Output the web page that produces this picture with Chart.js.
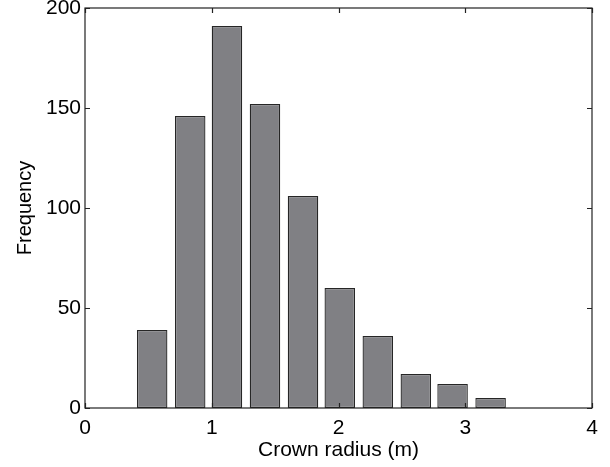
<!DOCTYPE html>
<html>
<head>
<meta charset="utf-8">
<script src="https://cdn.jsdelivr.net/npm/chart.js@4"></script>
<style>
  html, body { margin: 0; padding: 0; background: #fff; }
  #wrap { width: 610px; height: 467px; }
</style>
</head>
<body>
<div id="wrap"><canvas id="myChart" width="610" height="467"></canvas></div>
<script>
// bin centres (crown radius, m) and counts
const binCenters = [0.53, 0.83, 1.12, 1.42, 1.72, 2.01, 2.31, 2.61, 2.90, 3.20];
const counts = [39, 146, 191, 152, 106, 60, 36, 17, 12, 5];
const xTicks = [0, 1, 2, 3, 4];
const yTicks = [0, 50, 100, 150, 200];

const FONT = 'Liberation Sans, Arial, Helvetica, sans-serif';

// box frame plus MATLAB-style inward ticks on all four sides
const frameTicks = {
  id: 'frameTicks',
  afterDraw(chart) {
    const ctx = chart.ctx;
    const a = chart.chartArea;
    const xs = chart.scales.x, ys = chart.scales.y;
    const len = 5;
    ctx.save();
    ctx.strokeStyle = '#222';
    ctx.lineWidth = 1.2;
    ctx.strokeRect(a.left, a.top, a.right - a.left, a.bottom - a.top);
    ctx.beginPath();
    xTicks.forEach(function(v) {
      const px = Math.round(xs.getPixelForValue(v)) + 0.5;
      ctx.moveTo(px, a.bottom); ctx.lineTo(px, a.bottom - len);
      ctx.moveTo(px, a.top); ctx.lineTo(px, a.top + len);
    });
    yTicks.forEach(function(v) {
      const py = Math.round(ys.getPixelForValue(v)) + 0.5;
      ctx.moveTo(a.left, py); ctx.lineTo(a.left + len, py);
      ctx.moveTo(a.right, py); ctx.lineTo(a.right - len, py);
    });
    ctx.stroke();
    ctx.restore();
  }
};

const data = {
  datasets: [{
    label: 'Frequency',
    data: binCenters.map(function(c, i) { return { x: c, y: counts[i] }; }),
    backgroundColor: '#808084',
    borderColor: '#262626',
    borderWidth: 1.3,
    borderSkipped: false,
    barPercentage: 0.83,
    categoryPercentage: 1.0
  }]
};

const config = {
  type: 'bar',
  data,
  options: {
    responsive: false,
    animation: false,
    layout: { padding: { top: 8, right: 18, left: 0, bottom: 0 } },
    plugins: {
      legend: { display: false },
      tooltip: { enabled: false }
    },
    scales: {
      x: {
        type: 'linear',
        min: 0,
        max: 4,
        offset: false,
        afterBuildTicks: function(s) { s.ticks = xTicks.map(function(v) { return { value: v }; }); },
        grid: { display: false, drawTicks: false },
        border: { display: false },
        ticks: { color: '#000', padding: 8, font: { family: FONT, size: 21 } },
        title: {
          display: true,
          text: 'Crown radius (m)',
          color: '#000',
          padding: { top: 0, bottom: 4 },
          font: { family: FONT, size: 21 }
        },
        afterFit: function(s) { s.height = 59; s.paddingLeft = 0; s.paddingRight = 0; }
      },
      y: {
        min: 0,
        max: 200,
        afterBuildTicks: function(s) { s.ticks = yTicks.map(function(v) { return { value: v }; }); },
        grid: { display: false, drawTicks: false },
        border: { display: false },
        ticks: { color: '#000', padding: 4, font: { family: FONT, size: 21 } },
        title: {
          display: true,
          text: 'Frequency',
          color: '#000',
          padding: { top: 13, bottom: 0 },
          font: { family: FONT, size: 20 }
        },
        afterFit: function(s) { s.width = 85; s.paddingTop = 0; s.paddingBottom = 0; }
      }
    }
  },
  plugins: [frameTicks]
};

const myChart = new Chart(document.getElementById('myChart'), config);
</script>
</body>
</html>
